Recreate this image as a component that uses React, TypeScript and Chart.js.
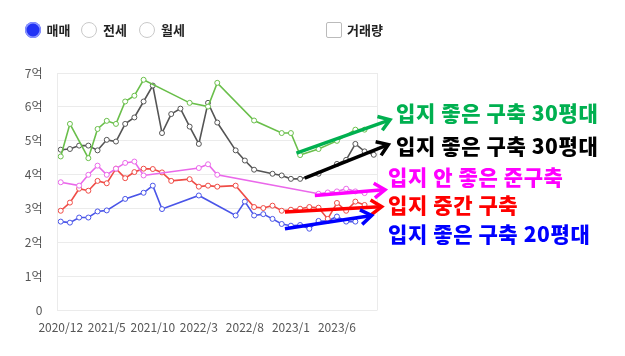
import React, { useEffect, useRef } from 'react';
import { Chart, registerables } from 'chart.js';
Chart.register(...registerables);

// Month categories (index 0 = 2020/12)
const months = [
  '2020/12', '2021/1', '2021/2', '2021/3', '2021/4', '2021/5', '2021/6', '2021/7', '2021/8', '2021/9',
  '2021/10', '2021/11', '2021/12', '2022/1', '2022/2', '2022/3', '2022/4', '2022/5', '2022/6', '2022/7',
  '2022/8', '2022/9', '2022/10', '2022/11', '2022/12', '2023/1', '2023/2', '2023/3', '2023/4', '2023/5',
  '2023/6', '2023/7', '2023/8', '2023/9', '2023/10',
];

type V = number | null;
const _ = null;

// Series values (억), one per month, null = no trade
const greenValues: V[] = [
  4.54, 5.5, _, 4.49, 5.35, 5.59, 5.5, 6.16, 6.33, 6.8,
  _, _, _, _, 6.12, _, 6.01, 6.71, _, _,
  _, 5.6, _, _, 5.23, 5.23, 4.58, _, 4.76, _,
  5.0, _, 5.33, 5.33, _,
];
const blackValues: V[] = [
  4.74, 4.76, 4.86, 4.86, 4.72, 5.03, 4.98, 5.5, 5.69, 6.16,
  6.63, 5.23, 5.79, 5.95, 5.42, 4.91, 6.12, 5.54, _, 4.72,
  4.42, 4.15, _, 4.03, 3.98, 3.88, 3.88, _, 4.03, _,
  4.32, 4.44, 4.91, 4.69, 4.59,
];
const magentaValues: V[] = [
  3.78, _, 3.68, 4.0, 4.27, 4.0, 4.18, 4.35, 4.39, 3.98,
  _, _, _, _, _, 4.2, 4.31, 4.0, _, _,
  _, _, _, _, _, _, _, _, 3.44, 3.48,
  3.51, 3.59, 3.51, 3.46, _,
];
const redValues: V[] = [
  2.94, 3.18, 3.59, 3.53, 3.82, 3.75, 4.18, 3.9, 4.08, 4.18,
  4.17, 4.07, 3.82, _, 3.87, 3.65, 3.68, 3.65, _, 3.68,
  _, 3.05, 3.02, 3.09, 2.94, 2.97, 3.0, 3.05, 3.03, 2.7,
  3.17, 2.94, 3.21, 3.11, _,
];
const blueValues: V[] = [
  2.62, 2.59, 2.74, 2.74, 2.92, 2.95, _, 3.29, _, 3.47,
  3.68, 2.99, _, _, _, 3.39, _, _, _, 2.8,
  3.21, 2.8, 2.84, 2.7, 2.55, 2.5, 2.52, 2.41, 2.64, 2.64,
  2.77, 2.62, 2.62, _, _,
];

const seriesColors = ['#6abf4b', '#555555', '#ea68ea', '#ef4c46', '#4a55e8'];
const seriesNames = ['입지 좋은 구축 30평대 A', '입지 좋은 구축 30평대 B', '입지 안 좋은 준구축', '입지 중간 구축', '입지 좋은 구축 20평대'];

// Annotations (in data units: x = month index, y = 억)
const noteTexts = ['입지 좋은 구축 30평대', '입지 좋은 구축 30평대', '입지 안 좋은 준구축', '입지 중간 구축', '입지 좋은 구축 20평대'];
const noteColors = ['#00b050', '#000000', '#ff00ff', '#ff0000', '#0000ff'];
const arrowFrom: [number, number][] = [[25.6, 4.64], [26.5, 3.9], [27.6, 3.39], [24.35, 2.9], [24.35, 2.41]];
const arrowTo: [number, number][] = [[35.76, 5.62], [35.58, 4.89], [35.22, 3.56], [34.86, 3.06], [33.77, 2.8]];
const textAt: [number, number][] = [[36.41, 5.83], [36.41, 4.84], [35.54, 3.94], [35.54, 3.11], [35.54, 2.26]];

const FONT = '"Noto Sans CJK KR", "Noto Sans", sans-serif';

const toPoints = (arr: V[]) =>
  arr.map((v, i) => (v == null ? null : { x: i, y: v })).filter((p) => p !== null) as { x: number; y: number }[];

export default function App() {
  const ref = useRef<HTMLCanvasElement>(null);

  useEffect(() => {
    document.body.style.margin = '0';
    const all = [greenValues, blackValues, magentaValues, redValues, blueValues];

    const overlay = {
      id: 'overlay',
      beforeDatasetsDraw(chart: any) {
        const { ctx, chartArea } = chart;
        ctx.save();
        ctx.strokeStyle = '#ebebeb';
        ctx.lineWidth = 1;
        ctx.beginPath();
        ctx.moveTo(Math.round(chartArea.right) + 0.5, chartArea.top);
        ctx.lineTo(Math.round(chartArea.right) + 0.5, chartArea.bottom);
        ctx.stroke();
        ctx.restore();
      },
      afterDatasetsDraw(chart: any) {
        const { ctx } = chart;
        const xs = chart.scales.x;
        const ys = chart.scales.y;
        ctx.save();
        for (let k = 0; k < noteTexts.length; k++) {
          const x0 = xs.getPixelForValue(arrowFrom[k][0]);
          const y0 = ys.getPixelForValue(arrowFrom[k][1]);
          const x1 = xs.getPixelForValue(arrowTo[k][0]);
          const y1 = ys.getPixelForValue(arrowTo[k][1]);
          const ang = Math.atan2(y1 - y0, x1 - x0);
          ctx.strokeStyle = noteColors[k];
          ctx.lineWidth = 3.5;
          ctx.lineCap = 'butt';
          ctx.lineJoin = 'miter';
          ctx.beginPath();
          ctx.moveTo(x0, y0);
          ctx.lineTo(x1 - Math.cos(ang) * 1.5, y1 - Math.sin(ang) * 1.5);
          ctx.stroke();
          const len = 13;
          const spread = 0.6;
          ctx.beginPath();
          ctx.moveTo(x1 - len * Math.cos(ang - spread), y1 - len * Math.sin(ang - spread));
          ctx.lineTo(x1, y1);
          ctx.lineTo(x1 - len * Math.cos(ang + spread), y1 - len * Math.sin(ang + spread));
          ctx.stroke();

          ctx.fillStyle = noteColors[k];
          ctx.font = `900 21px ${FONT}`;
          (ctx as any).letterSpacing = '0.6px';
          ctx.textBaseline = 'middle';
          ctx.textAlign = 'left';
          ctx.fillText(noteTexts[k], xs.getPixelForValue(textAt[k][0]), ys.getPixelForValue(textAt[k][1]));
          (ctx as any).letterSpacing = '0px';
        }
        ctx.restore();
      },
    };

    const chart = new Chart(ref.current!, {
      type: 'line',
      data: {
        datasets: all.map((arr, k) => ({
          label: seriesNames[k],
          data: toPoints(arr),
          borderColor: seriesColors[k],
          backgroundColor: '#ffffff',
          pointBackgroundColor: '#ffffff',
          pointBorderColor: seriesColors[k],
          pointBorderWidth: 1,
          pointRadius: 2.5,
          borderWidth: 1.6,
          tension: 0,
          fill: false,
        })),
      },
      options: {
        responsive: false,
        animation: false,
        layout: { padding: { top: 73, right: 248, bottom: 0, left: 0 } },
        plugins: { legend: { display: false }, tooltip: { enabled: false } },
        scales: {
          x: {
            type: 'linear',
            min: -0.35,
            max: 34.35,
            grid: { display: false, drawTicks: false },
            border: { display: false },
            afterFit: (s: any) => { s.height = 45.5; },
            ticks: {
              stepSize: 5,
              includeBounds: false,
              autoSkip: false,
              maxRotation: 0,
              padding: 10,
              color: '#555',
              font: { size: 12, family: FONT },
              callback: (v: any) => months[v] ?? '',
            },
          },
          y: {
            min: 0,
            max: 7,
            afterFit: (s: any) => { s.width = 57.5; },
            grid: { color: '#ebebeb', drawTicks: false },
            border: { display: true, color: '#ebebeb' },
            ticks: {
              stepSize: 1,
              padding: 15,
              color: '#555',
              font: { size: 12, family: FONT },
              callback: (v: any) => (v === 0 ? '0' : `${v}억`),
            },
          },
        },
      },
      plugins: [overlay],
    } as any);
    return () => chart.destroy();
  }, []);

  const label: React.CSSProperties = {
    position: 'absolute', top: 22, height: 16, lineHeight: '16px', fontSize: 13, fontWeight: 700, color: '#222',
  };
  const radioOff: React.CSSProperties = {
    position: 'absolute', top: 22, width: 14, height: 14, borderRadius: '50%', border: '1px solid #c9c9c9', background: '#fff',
  };

  return (
    <div style={{ position: 'relative', width: 625, height: 356, fontFamily: FONT }}>
      <canvas ref={ref} width={625} height={356} style={{ position: 'absolute', left: 0, top: 0 }} />
      <div style={{ position: 'absolute', left: 24.5, top: 22, width: 16, height: 16, borderRadius: '50%', background: '#2233f5', boxShadow: 'inset 0 0 0 1.5px #8d98ff' }} />
      <div style={{ ...label, left: 46.5 }}>매매</div>
      <div style={{ ...radioOff, left: 81 }} />
      <div style={{ ...label, left: 103 }}>전세</div>
      <div style={{ ...radioOff, left: 138.5 }} />
      <div style={{ ...label, left: 161 }}>월세</div>
      <div style={{ position: 'absolute', left: 326, top: 22, width: 14, height: 14, border: '1px solid #bbb', borderRadius: 2, background: '#fff' }} />
      <div style={{ ...label, left: 347 }}>거래량</div>
    </div>
  );
}
